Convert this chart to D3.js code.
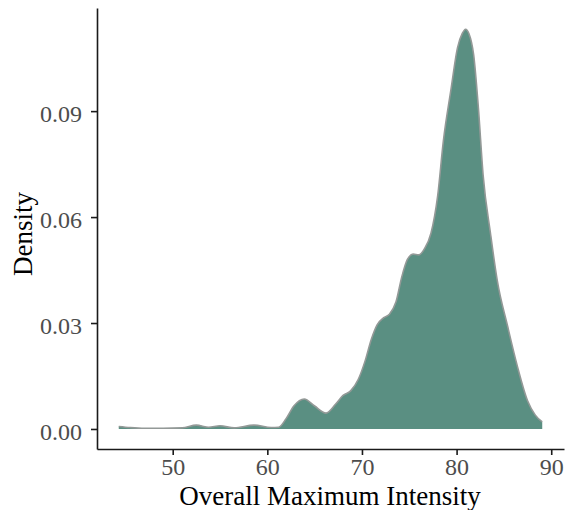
<!DOCTYPE html>
<html>
<head>
<meta charset="utf-8">
<script src="https://cdn.jsdelivr.net/npm/d3@7"></script>
<style>
  body { margin: 0; background: #fff; }
  .axis text { font-family: "Liberation Serif", "Times New Roman", serif; font-size: 24px; fill: #4d4d4d; }
  .axis path, .axis line { stroke: #1a1a1a; stroke-width: 1.6; }
  .title { font-family: "Liberation Serif", "Times New Roman", serif; font-size: 27px; fill: #000; }
</style>
</head>
<body>
<svg id="chart"></svg>
<script>
// density estimate
const intensity = [44.3, 45.5, 47, 49, 51, 52.5, 53.8, 55, 56.5, 58.6, 60.4, 61.2, 62, 62.8, 63.9,
  65, 66.2, 67.2, 68, 68.8, 69.6, 70.3, 71, 71.6, 72.3, 72.9, 73.6, 74.2, 74.8, 75.4, 76, 76.6,
  77.3, 78, 78.6, 79.4, 80.1, 80.6, 80.95, 81.3, 81.8, 82.3, 82.8, 83.6, 84.3, 85.4, 86.4, 87.5, 88.3, 89.05];
const density = [0.0007, 0.0004, 0.0002, 0.0002, 0.0003, 0.0011, 0.0005, 0.0009, 0.0003, 0.0011, 0.0004, 0.0005, 0.003, 0.0065, 0.0085,
  0.0065, 0.0045, 0.007, 0.0095, 0.0108, 0.014, 0.019, 0.0255, 0.0295, 0.0315, 0.0325, 0.036, 0.043, 0.048, 0.0495, 0.0493, 0.051,
  0.0555, 0.066, 0.0815, 0.096, 0.108, 0.112, 0.1132, 0.112, 0.106, 0.091, 0.072, 0.055, 0.042, 0.029, 0.018, 0.008, 0.004, 0.002];
const xTicks = [50, 60, 70, 80, 90];
const yTicks = [0, 0.03, 0.06, 0.09];

const W = 568, H = 510;
const margin = {top: 8, right: 4, bottom: 61, left: 97};

const data = intensity.map((v, i) => ({x: v, y: density[i]}));

const svg = d3.select('#chart').attr('width', W).attr('height', H);

const x = d3.scaleLinear().domain([42.0, 91.35]).range([margin.left, W - margin.right]);
const y = d3.scaleLinear().domain([-0.00567, 0.1192]).range([H - margin.bottom, margin.top]);

const area = d3.area()
  .curve(d3.curveMonotoneX)
  .x(d => x(d.x))
  .y0(y(0))
  .y1(d => y(d.y));

const line = d3.line()
  .curve(d3.curveMonotoneX)
  .x(d => x(d.x))
  .y(d => y(d.y));

svg.append('path')
  .datum(data)
  .attr('d', area)
  .attr('fill', '#5a8f82');

svg.append('path')
  .datum(data)
  .attr('d', line)
  .attr('fill', 'none')
  .attr('stroke', '#939997')
  .attr('stroke-width', 1.6);

const xAxis = svg.append('g')
  .attr('class', 'axis')
  .attr('transform', `translate(0,${H - margin.bottom})`)
  .call(d3.axisBottom(x).tickValues(xTicks).tickSize(6).tickSizeOuter(0));
xAxis.selectAll('text').attr('y', 26).attr('dy', 0);

const yAxis = svg.append('g')
  .attr('class', 'axis')
  .attr('transform', `translate(${margin.left},0)`)
  .call(d3.axisLeft(y).tickValues(yTicks).tickFormat(d3.format('.2f')).tickSize(6).tickPadding(9).tickSizeOuter(0));
yAxis.selectAll('text').attr('dy', '0.42em');

svg.append('text')
  .attr('class', 'title')
  .attr('x', 330)
  .attr('y', 505)
  .attr('text-anchor', 'middle')
  .text('Overall Maximum Intensity');

svg.append('text')
  .attr('class', 'title')
  .attr('transform', 'translate(32,234) rotate(-90)')
  .attr('text-anchor', 'middle')
  .text('Density');
</script>
</body>
</html>
